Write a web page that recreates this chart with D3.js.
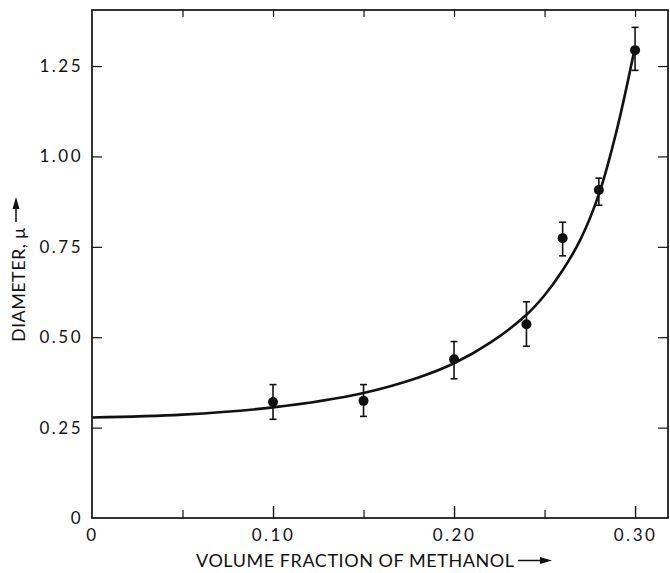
<!DOCTYPE html>
<html>
<head>
<meta charset="utf-8">
<title>Diameter vs volume fraction of methanol</title>
<script src="https://cdn.jsdelivr.net/npm/d3@7"></script>
<style>
  body { margin: 0; background: #fff; }
  svg { display: block; }
  text { font-family: Lato, "Open Sans", sans-serif; fill: #111; }
</style>
</head>
<body>
<svg id="chart" width="670" height="573"></svg>
<script>
// measured points with error bars
const fraction = [0.10, 0.15, 0.20, 0.24, 0.26, 0.28, 0.30];
const diameter = [0.321, 0.324, 0.439, 0.536, 0.774, 0.907, 1.294];
const errLow   = [0.273, 0.281, 0.385, 0.475, 0.725, 0.865, 1.238];
const errHigh  = [0.369, 0.369, 0.488, 0.598, 0.818, 0.940, 1.357];

// fitted curve
const curveX = [0, 0.05, 0.10, 0.15, 0.18, 0.20, 0.22, 0.24, 0.25, 0.26, 0.27, 0.28, 0.29, 0.30];
const curveY = [0.278, 0.286, 0.306, 0.346, 0.388, 0.428, 0.485, 0.562, 0.616, 0.685, 0.772, 0.895, 1.075, 1.303];

// tick values and labels
const xTicks = [0, 0.10, 0.20, 0.30];
const xTickLabels = ["0", "0.10", "0.20", "0.30"];
const xMinorTicks = [0.05, 0.15, 0.25];
const yTicks = [0, 0.25, 0.50, 0.75, 1.00, 1.25];
const yTickLabels = ["0", "0.25", "0.50", "0.75", "1.00", "1.25"];

const plotLeft = 92, plotRight = 668, plotTop = 10, plotBottom = 518;

const svg = d3.select("#chart");

const x = d3.scaleLinear().domain([0, 0.3182]).range([plotLeft, plotRight]);
const y = d3.scaleLinear().domain([0, 1.405]).range([plotBottom, plotTop]);

// frame
svg.append("rect")
  .attr("x", plotLeft).attr("y", plotTop)
  .attr("width", plotRight - plotLeft).attr("height", plotBottom - plotTop)
  .attr("fill", "none").attr("stroke", "#111").attr("stroke-width", 1.7);

// bottom axis: major + minor ticks pointing inward
const xAxis = svg.append("g").attr("transform", `translate(0,${plotBottom})`);
xAxis.call(d3.axisBottom(x).tickValues(xTicks).tickSizeInner(-12).tickSizeOuter(0)
    .tickFormat((d, i) => xTickLabels[i]))
  .call(g => g.select(".domain").remove());
xAxis.selectAll(".tick line").attr("stroke", "#111").attr("stroke-width", 1.4);
xAxis.selectAll(".tick text")
  .attr("y", 23).attr("dy", 0)
  .attr("font-size", 17).attr("letter-spacing", 2.5);
xAxis.selectAll(".tick").filter(d => d === 0).select("line").remove();

svg.append("g").attr("transform", `translate(0,${plotBottom})`)
  .call(d3.axisBottom(x).tickValues(xMinorTicks).tickSizeInner(-8).tickSizeOuter(0).tickFormat(""))
  .call(g => g.select(".domain").remove())
  .selectAll(".tick line").attr("stroke", "#111").attr("stroke-width", 1.2);

// top axis: small inward ticks
svg.append("g").attr("transform", `translate(0,${plotTop})`)
  .call(d3.axisTop(x).tickValues([0.05, 0.10, 0.15, 0.20, 0.25, 0.30]).tickSizeInner(-7).tickSizeOuter(0).tickFormat(""))
  .call(g => g.select(".domain").remove())
  .selectAll(".tick line").attr("stroke", "#111").attr("stroke-width", 1.2);

// left axis
const yAxis = svg.append("g").attr("transform", `translate(${plotLeft},0)`);
yAxis.call(d3.axisLeft(y).tickValues(yTicks).tickSizeInner(-10).tickSizeOuter(0)
    .tickFormat((d, i) => yTickLabels[i]))
  .call(g => g.select(".domain").remove());
yAxis.selectAll(".tick line").attr("stroke", "#111").attr("stroke-width", 1.2);
yAxis.selectAll(".tick text")
  .attr("x", -9).attr("font-size", 17).attr("letter-spacing", 2.5);
yAxis.selectAll(".tick").filter(d => d === 0).select("line").remove();

// right axis ticks
svg.append("g").attr("transform", `translate(${plotRight},0)`)
  .call(d3.axisRight(y).tickValues(yTicks.slice(1)).tickSizeInner(-10).tickSizeOuter(0).tickFormat(""))
  .call(g => g.select(".domain").remove())
  .selectAll(".tick line").attr("stroke", "#111").attr("stroke-width", 1.2);

// fitted curve
const line = d3.line()
  .x(d => x(d[0]))
  .y(d => y(d[1]))
  .curve(d3.curveCatmullRom.alpha(0.5));

svg.append("path")
  .datum(d3.zip(curveX, curveY))
  .attr("d", line)
  .attr("fill", "none")
  .attr("stroke", "#111")
  .attr("stroke-width", 2.6);

// error bars
const pts = fraction.map((f, i) => ({ f, d: diameter[i], lo: errLow[i], hi: errHigh[i] }));
const bars = svg.append("g").selectAll("g").data(pts).join("g")
  .attr("stroke", "#111").attr("stroke-width", 1.6);
bars.append("line")
  .attr("x1", d => x(d.f)).attr("x2", d => x(d.f))
  .attr("y1", d => y(d.lo)).attr("y2", d => y(d.hi));
bars.append("line")
  .attr("x1", d => x(d.f) - 3.5).attr("x2", d => x(d.f) + 3.5)
  .attr("y1", d => y(d.hi)).attr("y2", d => y(d.hi));
bars.append("line")
  .attr("x1", d => x(d.f) - 3.5).attr("x2", d => x(d.f) + 3.5)
  .attr("y1", d => y(d.lo)).attr("y2", d => y(d.lo));

// data points
svg.append("g").selectAll("circle").data(pts).join("circle")
  .attr("cx", d => x(d.f)).attr("cy", d => y(d.d))
  .attr("r", 5).attr("fill", "#111");

// axis titles with arrows
const arrowHead = "M0,-3.5 L12,0 L0,3.5 Z";

const xt = svg.append("g").attr("transform", "translate(196,567)");
xt.append("text").attr("x", 0).attr("y", 0)
  .attr("font-size", 18)
  .attr("textLength", 318).attr("lengthAdjust", "spacing")
  .text("VOLUME FRACTION OF METHANOL");
xt.append("line").attr("x1", 322).attr("x2", 346).attr("y1", -6.5).attr("y2", -6.5)
  .attr("stroke", "#111").attr("stroke-width", 1.5);
xt.append("path").attr("d", arrowHead).attr("transform", "translate(344,-6.5)").attr("fill", "#111");

const yt = svg.append("g").attr("transform", "translate(25,342) rotate(-90)");
yt.append("text").attr("x", 0).attr("y", 0)
  .attr("font-size", 18)
  .attr("textLength", 114).attr("lengthAdjust", "spacing")
  .text("DIAMETER, \u03BC");
yt.append("line").attr("x1", 120).attr("x2", 135).attr("y1", -9).attr("y2", -9)
  .attr("stroke", "#111").attr("stroke-width", 1.5);
yt.append("path").attr("d", arrowHead).attr("transform", "translate(133,-9)").attr("fill", "#111");
</script>
</body>
</html>
